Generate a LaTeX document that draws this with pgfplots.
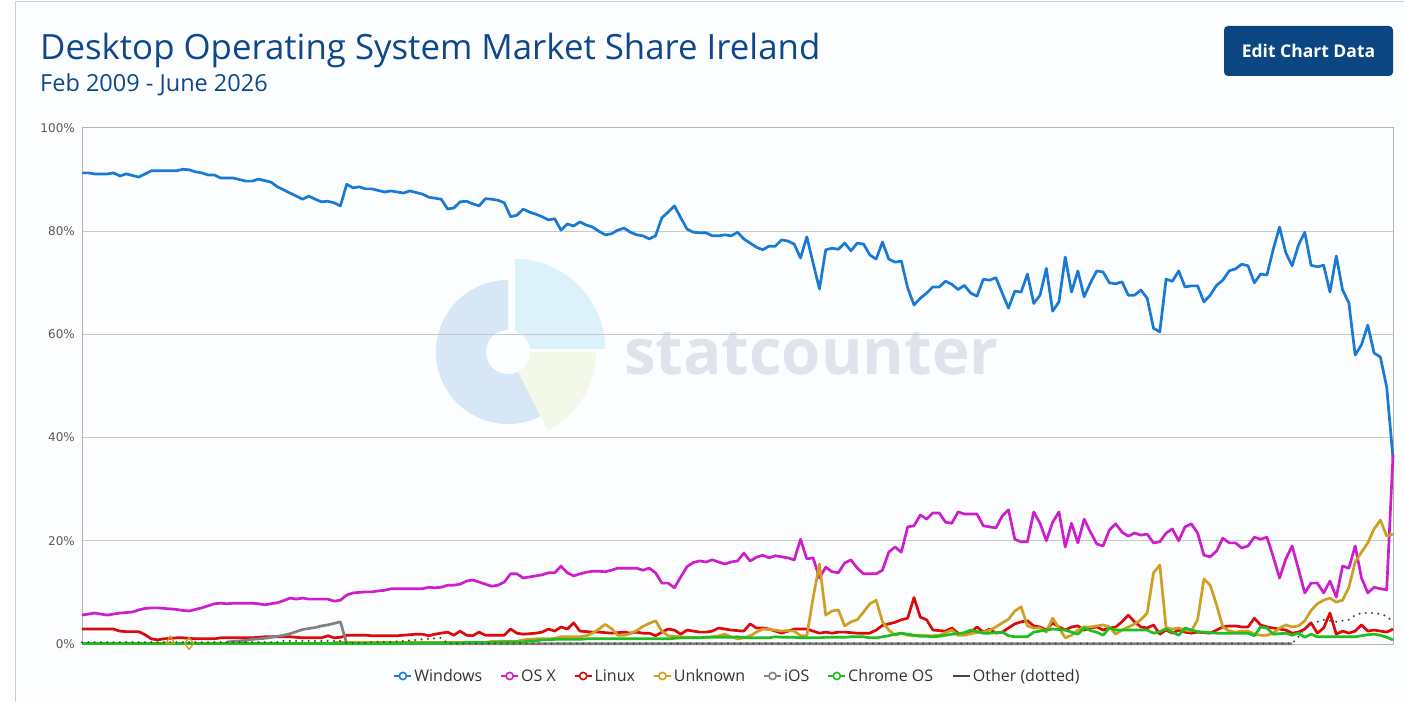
\documentclass[border=0pt]{standalone}
\usepackage{fontspec}
\setmainfont{Open Sans}
\newfontfamily\dejavu{DejaVu Sans}
\usepackage{pgfplots}
\usepackage{pgfplotstable}
\pgfplotsset{compat=1.18}
\definecolor{win}{RGB}{24,122,212}
\definecolor{osx}{RGB}{204,30,204}
\definecolor{lin}{RGB}{220,10,10}
\definecolor{unk}{RGB}{205,160,35}
\definecolor{ios}{RGB}{130,130,130}
\definecolor{chr}{RGB}{30,190,30}
\definecolor{oth}{RGB}{70,70,70}
\definecolor{titleblue}{RGB}{14,72,138}
\definecolor{btn}{RGB}{11,70,130}
\definecolor{wm1}{RGB}{216,231,246}
\definecolor{wm2}{RGB}{221,241,250}
\definecolor{wm3}{RGB}{244,248,232}
\definecolor{wmtext}{RGB}{222,227,236}
\definecolor{cardbg}{RGB}{252,253,254}
\definecolor{cardborder}{RGB}{196,208,222}
\definecolor{tickgray}{RGB}{90,90,90}
\definecolor{gridgray}{RGB}{200,200,200}
\definecolor{axisgray}{RGB}{180,180,180}
\definecolor{legtext}{RGB}{51,51,51}

\pgfplotstableread{
i W M L U C O S
0 91.3 5.6 2.9 nan 0.1 0.35 nan
1 91.3 5.8 2.9 nan 0.1 0.35 nan
2 91.1 6.0 2.9 nan 0.1 0.35 nan
3 91.1 5.8 2.9 nan 0.1 0.35 nan
4 91.1 5.6 2.9 nan 0.1 0.35 nan
5 91.3 5.8 2.9 nan 0.1 0.35 nan
6 90.7 6.0 2.5 nan 0.1 0.35 nan
7 91.1 6.1 2.4 nan 0.1 0.35 nan
8 90.8 6.2 2.4 nan 0.1 0.35 nan
9 90.5 6.6 2.4 nan 0.1 0.35 nan
10 91.1 6.9 1.8 nan 0.1 0.35 nan
11 91.7 7.0 1.0 nan 0.1 0.35 nan
12 91.7 7.0 0.8 nan 0.1 0.35 nan
13 91.7 6.9 1.0 nan 0.1 0.35 nan
14 91.7 6.8 1.1 nan 0.1 0.35 nan
15 91.7 6.7 1.2 nan 0.1 0.35 nan
16 92.0 6.5 1.2 nan 0.1 0.35 nan
17 91.9 6.4 1.1 nan 0.1 0.35 nan
18 91.5 6.7 1.0 nan 0.1 0.35 nan
19 91.3 7.0 1.0 nan 0.1 0.35 nan
20 90.9 7.4 1.0 nan 0.1 0.35 nan
21 90.9 7.8 1.0 nan 0.1 0.35 nan
22 90.3 7.9 1.2 nan 0.1 0.35 nan
23 90.3 7.8 1.2 nan 0.1 0.35 0.4
24 90.3 7.9 1.2 nan 0.1 0.35 0.5
25 90.0 7.9 1.2 nan 0.1 0.35 0.6
26 89.7 7.9 1.2 nan 0.1 0.35 0.7
27 89.7 7.9 1.2 nan 0.1 0.35 0.9
28 90.1 7.8 1.3 nan 0.1 0.35 1.0
29 89.8 7.6 1.4 nan 0.1 0.35 1.1
30 89.5 7.8 1.4 nan 0.1 0.35 1.3
31 88.6 8.0 1.4 nan 0.1 0.35 1.5
32 88.0 8.4 1.4 nan 0.1 0.6 1.7
33 87.4 8.9 1.4 nan 0.1 0.6 2.0
34 86.8 8.7 1.3 nan 0.1 0.6 2.4
35 86.2 8.9 1.2 nan 0.1 0.6 2.8
36 86.8 8.7 1.2 nan 0.1 0.6 3.0
37 86.2 8.7 1.2 nan 0.1 0.6 3.2
38 85.7 8.7 1.2 nan 0.1 0.6 3.5
39 85.8 8.7 1.6 nan 0.1 0.6 3.7
40 85.5 8.3 1.2 0.3 0.1 0.6 4.0
41 84.9 8.5 1.3 0.3 0.1 0.6 4.3
42 89.1 9.5 1.7 0.3 0.1 0.2 0.05
43 88.4 9.9 1.7 0.3 0.1 0.2 0.05
44 88.6 10.0 1.7 0.3 0.1 0.2 0.05
45 88.2 10.1 1.7 0.3 0.1 0.2 0.05
46 88.2 10.1 1.6 0.3 0.1 0.4 0.05
47 87.9 10.3 1.6 0.3 0.1 0.4 0.05
48 87.6 10.4 1.6 0.3 0.1 0.4 0.05
49 87.8 10.7 1.6 0.3 0.1 0.4 0.05
50 87.6 10.7 1.6 0.3 0.1 0.5 0.05
51 87.4 10.7 1.7 0.3 0.2 0.6 0.05
52 87.8 10.7 1.8 0.3 0.2 0.7 0.05
53 87.5 10.7 1.9 0.3 0.2 0.8 0.05
54 87.2 10.7 1.9 0.3 0.2 0.9 0.05
55 86.6 11.0 1.6 0.3 0.2 1.0 0.05
56 86.4 10.9 1.9 0.3 0.2 1.1 0.05
57 86.2 11.0 2.1 0.3 0.2 1.2 0.05
58 84.3 11.4 2.3 0.3 0.2 0.1 0.05
59 84.5 11.4 1.7 0.3 0.2 0.1 0.05
60 85.7 11.6 2.5 0.3 0.2 0.1 0.05
61 85.8 12.2 1.7 0.3 0.3 0.1 0.05
62 85.3 12.4 1.6 0.3 0.3 0.1 0.05
63 84.9 12.0 2.3 0.3 0.3 0.1 0.05
64 86.3 11.6 1.7 0.3 0.3 0.1 0.05
65 86.2 11.2 1.7 0.5 0.3 0.1 0.05
66 86.0 11.4 1.7 0.5 0.3 0.1 0.05
67 85.5 12.0 1.7 0.5 0.4 0.1 0.05
68 82.8 13.6 2.9 0.5 0.4 0.1 0.05
69 83.1 13.6 2.1 0.5 0.4 0.1 0.05
70 84.3 12.8 1.9 0.8 0.4 0.1 0.05
71 83.7 13.0 2.0 0.9 0.6 0.1 0.05
72 83.3 13.2 2.1 1.0 0.6 0.1 0.05
73 82.8 13.4 2.3 1.0 0.8 0.1 0.05
74 82.2 13.8 2.9 1.0 0.8 0.1 0.05
75 82.4 13.8 2.5 1.1 0.9 0.1 0.05
76 80.2 15.1 3.3 1.4 0.9 0.1 0.05
77 81.4 13.8 2.9 1.4 0.9 0.1 0.05
78 81.0 13.2 4.1 1.4 0.9 0.1 0.05
79 81.8 13.6 2.5 1.4 0.9 0.1 0.05
80 81.2 13.9 2.4 1.6 1.0 0.1 0.05
81 80.8 14.1 2.3 2.1 1.0 0.1 0.05
82 80.0 14.1 2.3 2.9 1.0 0.1 0.05
83 79.3 14.0 2.2 3.8 1.0 0.1 0.05
84 79.5 14.3 2.1 3.0 1.0 0.1 0.05
85 80.2 14.7 2.2 1.7 1.0 0.1 0.05
86 80.6 14.7 2.3 1.7 1.0 0.1 0.05
87 79.8 14.7 2.1 2.0 1.0 0.1 0.05
88 79.3 14.7 2.3 2.6 1.0 0.1 0.05
89 79.1 14.3 2.1 3.4 1.0 0.1 0.05
90 78.5 14.7 2.1 4.0 1.0 0.1 0.05
91 79.1 13.8 1.6 4.5 1.0 0.1 0.05
92 82.6 11.8 2.3 2.5 1.0 0.1 0.05
93 83.7 11.8 2.9 1.6 1.0 0.1 0.05
94 84.9 10.9 2.7 1.5 1.1 0.1 0.05
95 82.6 13.0 1.9 1.4 1.2 0.1 0.05
96 80.4 15.0 2.7 1.3 1.2 0.1 0.05
97 79.8 15.8 2.5 1.2 1.2 0.1 0.05
98 79.7 16.1 2.3 1.2 1.2 0.1 0.05
99 79.7 15.9 2.3 1.3 1.3 0.1 0.05
100 79.1 16.3 2.5 1.4 1.3 0.1 0.05
101 79.1 15.9 3.1 1.6 1.3 0.1 0.05
102 79.3 15.5 2.9 1.9 1.3 0.1 0.05
103 79.1 15.9 2.7 1.4 1.3 0.1 0.05
104 79.8 16.1 2.6 1.0 1.4 0.1 0.05
105 78.5 17.6 2.5 1.2 1.2 0.1 0.05
106 77.7 16.1 3.9 1.6 1.2 0.1 0.05
107 76.9 16.8 3.1 2.3 1.2 0.1 0.05
108 76.4 17.2 3.1 2.9 1.2 0.1 0.05
109 77.1 16.7 2.9 2.8 1.2 0.1 0.05
110 77.1 17.1 2.5 2.7 1.4 0.1 0.05
111 78.3 16.9 2.1 2.5 1.3 0.1 0.05
112 78.1 16.7 2.5 2.6 1.3 0.1 0.05
113 77.5 16.3 2.9 2.5 1.3 0.1 0.05
114 74.8 20.3 2.9 1.6 1.2 0.1 0.05
115 78.9 16.5 2.9 1.6 1.2 0.1 0.05
116 73.8 16.7 2.5 9.0 1.2 0.1 0.05
117 68.8 12.8 2.1 15.5 1.2 0.1 0.05
118 76.4 14.9 2.3 5.6 1.3 0.1 0.05
119 76.7 14.0 2.1 6.4 1.3 0.1 0.05
120 76.5 13.8 2.3 6.6 1.3 0.1 0.05
121 77.7 15.7 2.3 3.5 1.3 0.1 0.05
122 76.2 16.3 2.2 4.3 1.4 0.1 0.05
123 77.7 14.7 2.1 4.7 1.4 0.1 0.05
124 77.5 13.6 2.1 6.2 1.4 0.1 0.05
125 75.4 13.6 2.1 7.8 1.2 0.1 0.05
126 74.6 13.6 2.7 8.5 1.2 0.1 0.05
127 77.9 14.3 3.6 4.3 1.4 0.1 0.05
128 74.6 17.8 3.9 2.7 1.6 0.1 0.05
129 74.0 18.8 4.2 1.7 1.9 0.1 0.05
130 74.2 17.8 4.7 2.1 2.1 0.1 0.05
131 69.0 22.7 5.0 1.7 1.9 0.1 0.05
132 65.7 22.9 9.0 1.6 1.7 0.1 0.05
133 67.0 25.0 5.2 1.7 1.5 0.1 0.05
134 68.0 24.2 4.7 1.6 1.5 0.1 0.05
135 69.2 25.4 2.7 1.6 1.4 0.1 0.05
136 69.2 25.4 2.6 1.7 1.5 0.1 0.05
137 70.3 23.6 2.5 2.2 1.7 0.1 0.05
138 69.7 23.4 3.1 2.7 1.9 0.1 0.05
139 68.7 25.6 2.1 1.7 2.0 0.1 0.05
140 69.5 25.2 1.9 1.7 2.2 0.1 0.05
141 68.0 25.2 2.3 2.0 2.7 0.1 0.05
142 67.4 25.2 3.3 2.2 2.4 0.1 0.05
143 70.7 22.9 2.3 2.3 2.1 0.1 0.05
144 70.5 22.7 2.9 2.7 2.1 0.1 0.05
145 71.0 22.5 2.1 3.3 2.2 0.1 0.05
146 68.0 24.8 2.3 4.1 2.3 0.1 0.05
147 65.1 26.0 3.1 4.8 1.6 0.1 0.05
148 68.4 20.3 3.9 6.4 1.4 0.1 0.05
149 68.2 19.8 4.3 7.2 1.4 0.1 0.05
150 71.7 19.8 4.5 3.5 1.4 0.1 0.05
151 66.0 25.6 3.5 3.1 2.3 0.1 0.05
152 67.6 23.4 3.3 3.1 2.5 0.1 0.05
153 72.8 20.0 2.7 2.3 2.7 0.1 0.05
154 64.5 23.6 4.1 5.0 2.9 0.1 0.05
155 66.3 25.6 3.3 3.1 2.8 0.1 0.05
156 75.0 18.8 2.7 1.2 2.7 0.1 0.05
157 68.2 23.4 3.3 1.7 2.3 0.1 0.05
158 72.3 19.6 3.5 2.7 1.9 0.1 0.05
159 67.3 24.2 2.7 3.3 3.1 0.1 0.05
160 70.0 21.7 3.1 3.3 2.6 0.1 0.05
161 72.3 19.4 3.3 3.5 2.3 0.1 0.05
162 72.1 19.0 2.7 3.7 1.7 0.1 0.05
163 70.0 22.1 3.1 3.3 3.1 0.1 0.05
164 69.8 23.3 3.3 1.9 2.7 0.1 0.05
165 70.2 21.7 4.3 2.7 2.7 0.1 0.05
166 67.6 20.9 5.6 3.3 2.7 0.1 0.05
167 67.6 21.5 4.3 3.9 2.7 0.1 0.05
168 68.6 21.1 3.3 4.7 2.7 0.1 0.05
169 67.0 21.3 3.1 6.0 2.7 0.1 0.05
170 61.2 19.6 3.7 13.8 2.1 0.1 0.05
171 60.5 19.8 1.9 15.3 2.4 0.1 0.05
172 70.7 21.5 2.7 3.1 2.9 0.1 0.05
173 70.3 22.3 2.1 2.9 2.3 0.1 0.05
174 72.3 20.0 2.7 3.1 1.7 0.1 0.05
175 69.2 22.7 2.3 2.7 3.1 0.1 0.05
176 69.4 23.3 2.1 2.5 2.7 0.1 0.05
177 69.4 21.5 2.3 4.7 2.4 0.1 0.05
178 66.3 17.2 2.2 12.6 2.3 0.1 0.05
179 67.6 16.9 2.1 11.4 2.2 0.1 0.05
180 69.5 18.0 2.7 7.6 2.1 0.1 0.05
181 70.5 20.5 3.3 3.3 2.1 0.1 0.05
182 72.3 19.6 3.5 2.5 2.1 0.1 0.05
183 72.7 19.6 3.5 2.3 2.1 0.1 0.05
184 73.6 18.6 3.3 2.5 2.1 0.1 0.05
185 73.3 19.0 3.3 2.5 2.1 0.1 0.05
186 70.0 20.7 5.0 1.9 1.6 0.1 0.05
187 71.7 20.3 3.7 1.7 3.3 0.1 0.05
188 71.5 20.7 3.3 1.7 3.1 0.1 0.05
189 76.5 16.9 3.1 2.1 1.9 0.1 0.05
190 80.8 12.8 2.9 3.1 2.0 0.1 0.05
191 75.8 16.5 2.7 3.7 2.1 0.1 0.05
192 73.3 19.0 2.1 3.3 1.7 0.1 0.05
193 77.3 14.5 2.3 3.5 2.1 1.4 nan
194 79.8 9.9 2.9 4.5 1.3 3.0 nan
195 73.4 11.8 4.1 6.5 1.9 3.7 nan
196 73.1 11.8 2.1 7.8 1.4 4.3 nan
197 73.4 9.9 3.1 8.5 1.4 4.7 nan
198 68.2 12.2 6.0 8.9 1.4 4.5 nan
199 75.2 9.1 1.9 8.1 1.4 4.3 nan
200 68.6 15.1 2.5 8.5 1.4 4.5 nan
201 66.1 14.7 2.1 11.0 1.4 4.7 nan
202 56.0 19.0 2.5 15.9 1.4 5.6 nan
203 58.0 12.8 3.7 17.8 1.6 6.0 nan
204 61.8 9.9 2.5 19.6 1.8 6.0 nan
205 56.4 11.0 2.7 22.3 1.9 6.0 nan
206 55.6 10.7 2.5 24.0 1.7 5.8 nan
207 49.8 10.5 2.3 20.9 1.3 5.4 nan
208 36.0 36.6 2.9 21.3 0.8 4.3 nan
}\datatable

\begin{document}
\begin{tikzpicture}[x=1pt,y=1pt]
\useasboundingbox (0,0) rectangle (1404,702);
\fill[white] (0,0) rectangle (1404,702);
\fill[cardbg] (15,0) rectangle (1404,701);
\draw[cardborder, line width=1.2pt] (15.5,0) -- (15.5,700.5) -- (1404,700.5);
% title
\node[anchor=base west, inner sep=0, text=titleblue, font=\fontsize{34.8}{42}\selectfont] at (40,642) {Desktop Operating System Market Share Ireland};
\node[anchor=base west, inner sep=0, text=titleblue, font=\fontsize{23.5}{28}\selectfont] at (40,610) {Feb 2009 - June 2026};
% button
\fill[btn, rounded corners=4pt] (1224,626) rectangle (1393,676);
\node[text=white, inner sep=0, font=\bfseries\fontsize{17.5}{21}\selectfont] at (1308.5,651) {Edit Chart Data};
% watermark
\begin{scope}[shift={(508,350)}]
\fill[wm1] (0,0) -- (90:72) arc[start angle=90,end angle=297,radius=72] -- cycle;
\fill[wm3] (0,0) -- (-63:88) arc[start angle=-63,end angle=0,radius=88] -- cycle;
\fill[wm2] (7,3) -- ++(0:90) arc[start angle=0,end angle=90,radius=90] -- cycle;
\fill[cardbg] (0,0) circle (22);
\end{scope}
\node[anchor=base west, inner sep=0, text=wmtext, font=\bfseries\fontsize{63.5}{70}\selectfont] at (624,327) {statcounter};

\begin{axis}[
  at={(82pt,58pt)}, anchor=south west,
  width=1311pt, height=516pt, scale only axis,
  xmin=0, xmax=208, ymin=0, ymax=100,
  xtick=\empty,
  ytick={0,20,40,60,80,100},
  yticklabels={0\%,20\%,40\%,60\%,80\%,100\%},
  yticklabel style={font=\dejavu\fontsize{12}{14}\selectfont, text=tickgray, inner sep=0pt, xshift=-7pt},
  major tick length=0pt,
  ymajorgrids, grid style={draw=gridgray, line width=1pt},
  axis line style={draw=axisgray, line width=1pt},
  unbounded coords=jump,
  clip=false,
  legend columns=-1,
  legend style={at={(0.5,-0.062)}, anchor=center, draw=none, fill=none,
    font=\fontsize{16}{19}\selectfont, text=legtext,
    /tikz/every even column/.append style={column sep=16pt}},
  every axis plot/.append style={line width=2.7pt, line join=round},
]
\addplot[win, forget plot] table[x=i,y=W]{\datatable};
\addplot[osx, forget plot] table[x=i,y=M]{\datatable};
\addplot[lin, forget plot] table[x=i,y=L]{\datatable};
\addplot[unk, forget plot] table[x=i,y=U]{\datatable};
\addplot[unk, only marks, mark=triangle, mark size=5pt, line width=1.3pt, forget plot] coordinates {(14,0.6)};
\addplot[unk, only marks, mark=diamond, mark size=6pt, line width=1.3pt, forget plot] coordinates {(17,0.1)};
\addplot[ios, forget plot] table[x=i,y=S]{\datatable};
\addplot[chr, forget plot] table[x=i,y=C]{\datatable};
\addplot[oth, line width=2.3pt, line cap=round, dash pattern=on 0pt off 6.3pt, forget plot] table[x=i,y=O]{\datatable};

\addlegendimage{win, line width=1.8pt, mark=*, mark size=3.6pt, mark options={fill=white, line width=1.6pt}}
\addlegendentry{Windows}
\addlegendimage{osx, line width=1.8pt, mark=*, mark size=3.6pt, mark options={fill=white, line width=1.6pt}}
\addlegendentry{OS X}
\addlegendimage{lin, line width=1.8pt, mark=*, mark size=3.6pt, mark options={fill=white, line width=1.6pt}}
\addlegendentry{Linux}
\addlegendimage{unk, line width=1.8pt, mark=*, mark size=3.6pt, mark options={fill=white, line width=1.6pt}}
\addlegendentry{Unknown}
\addlegendimage{ios, line width=1.8pt, mark=*, mark size=3.6pt, mark options={fill=white, line width=1.6pt}}
\addlegendentry{iOS}
\addlegendimage{chr, line width=1.8pt, mark=*, mark size=3.6pt, mark options={fill=white, line width=1.6pt}}
\addlegendentry{Chrome OS}
\addlegendimage{oth, line width=2.6pt}
\addlegendentry{Other (dotted)}
\end{axis}
\end{tikzpicture}
\end{document}
